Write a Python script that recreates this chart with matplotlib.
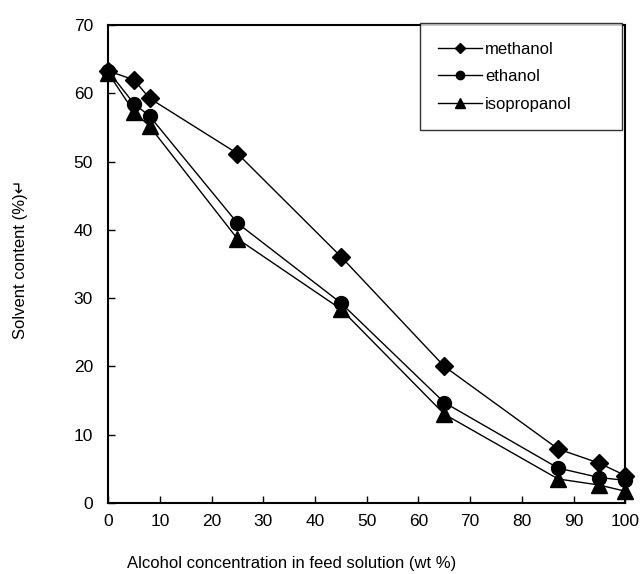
import matplotlib
matplotlib.use("Agg")
import matplotlib.pyplot as plt

plt.rcParams['font.family'] = ['Liberation Sans', 'DejaVu Sans']

# concentracao de alcool na alimentacao (wt %)
conc = [0, 5, 8, 25, 45, 65, 87, 95, 100]
metanol = [63.3, 62.0, 59.3, 51.2, 36.1, 20.0, 7.9, 5.8, 4.0]
etanol = [63.3, 58.5, 56.7, 41.0, 29.3, 14.7, 5.1, 3.7, 3.3]
isopropanol = [63.0, 57.3, 55.2, 38.7, 28.4, 13.0, 3.5, 2.6, 1.7]

fig = plt.figure(figsize=(6.4, 5.74), dpi=100)
ax = fig.add_axes([0.169, 0.124, 0.808, 0.832])

ax.plot(conc, metanol, color='black', lw=1, marker='D', ms=9, label='methanol', clip_on=False)
ax.plot(conc, etanol, color='black', lw=1, marker='o', ms=10, label='ethanol', clip_on=False)
ax.plot(conc, isopropanol, color='black', lw=1, marker='^', ms=11, label='isopropanol', clip_on=False)

ax.set_xlim(0, 100)
ax.set_ylim(0, 70)
ax.set_xticks(range(0, 101, 10))
ax.set_yticks(range(0, 71, 10))
ax.tick_params(direction='in', length=5, labelsize=12.5, width=1)
ax.tick_params(axis='x', pad=8)
ax.tick_params(axis='y', pad=11)
for s in ax.spines.values():
    s.set_linewidth(1.5)

ax.set_xlabel('Alcohol concentration in feed solution (wt %)', fontsize=12)
ax.xaxis.set_label_coords(0.354, -0.112)
ax.set_ylabel('Solvent content (%)\u21b5', fontsize=12)
ax.yaxis.set_label_coords(-0.155, 0.51)

leg = ax.legend(loc='upper left', bbox_to_anchor=(0.603, 0.0, 0.391, 1.004), mode='expand',
                fontsize=12, frameon=True, fancybox=False, edgecolor='black',
                handlelength=2.6, handletextpad=0.2, borderpad=1.1, labelspacing=0.75,
                borderaxespad=0, markerscale=0.6)
leg.get_frame().set_linewidth(1)

fig.savefig('out.png', dpi=100)
